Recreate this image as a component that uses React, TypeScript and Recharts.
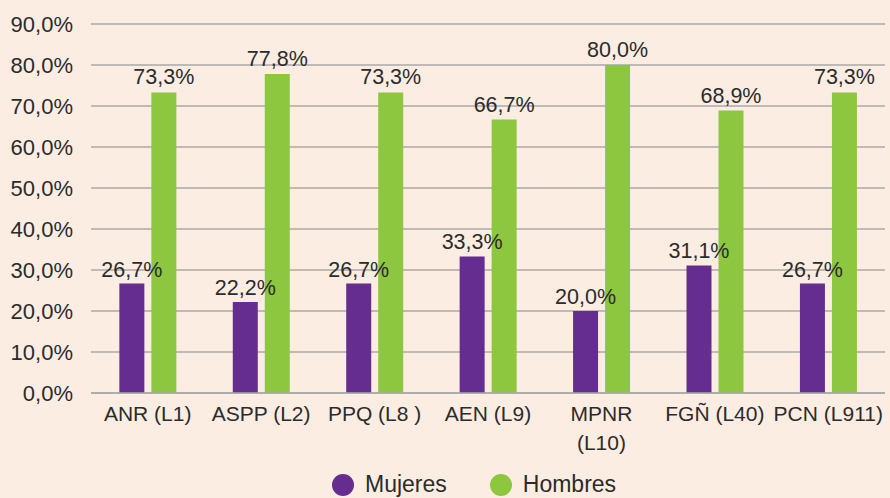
import React from 'react';
import { BarChart, Bar, XAxis, YAxis, CartesianGrid, LabelList } from 'recharts';

const categories = ['ANR (L1)', 'ASPP (L2)', 'PPQ (L8 )', 'AEN (L9)', 'MPNR\n(L10)', 'FGÑ (L40)', 'PCN (L911)'];
const mujeres = [26.7, 22.2, 26.7, 33.3, 20.0, 31.1, 26.7];
const hombres = [73.3, 77.8, 73.3, 66.7, 80.0, 68.9, 73.3];
const yTicks = [0, 10, 20, 30, 40, 50, 60, 70, 80, 90];
const seriesNames = ['Mujeres', 'Hombres'];

const PURPLE = '#652D90';
const GREEN = '#8DC63F';
const BG = '#FCEDE3';
const TEXT = '#2B2B2B';
const GRID = '#A8A8A8';
const FONT = '"Liberation Sans", Arial, Helvetica, sans-serif';

const data = categories.map((c, i) => ({ name: c, Mujeres: mujeres[i], Hombres: hombres[i] }));

const fmt = (v: number) => v.toFixed(1).replace('.', ',') + '%';

const XTick = (props: any) => {
  const { x, y, payload } = props;
  const lines = String(payload.value).split('\n');
  return (
    <text x={x} y={y + 20} textAnchor="middle" fill={TEXT} fontSize={21} fontFamily={FONT}>
      {lines.map((l, i) => (
        <tspan key={i} x={x} dy={i === 0 ? 0 : 29}>{l}</tspan>
      ))}
    </text>
  );
};

const LegendBox = () => {
  const colors = [PURPLE, GREEN];
  return (
    <div style={{ position: 'absolute', left: 332, top: 471, display: 'flex', alignItems: 'center', fontFamily: FONT, fontSize: 23, color: TEXT, lineHeight: '24px', whiteSpace: 'nowrap' }}>
      {seriesNames.map((n, i) => (
        <div key={n} style={{ display: 'flex', alignItems: 'center', marginRight: i === 0 ? 43 : 0 }}>
          <span style={{ display: 'inline-block', width: 22, height: 22, borderRadius: 11, background: colors[i], marginRight: 11, marginTop: 3 }} />
          <span>{n}</span>
        </div>
      ))}
    </div>
  );
};

export default function App() {
  return (
    <div style={{ position: 'absolute', left: 0, top: 0, width: 890, height: 498, background: BG, overflow: 'hidden' }}>
      <BarChart
        width={890}
        height={498}
        data={data}
        margin={{ top: 24, right: 5, bottom: 75, left: 0 }}
        barCategoryGap="25%"
        barGap={7}
      >
        <CartesianGrid vertical={false} stroke={GRID} strokeWidth={1.6} />
        <XAxis
          dataKey="name"
          height={30}
          tick={<XTick />}
          tickLine={false}
          axisLine={{ stroke: GRID, strokeWidth: 1.6 }}
          interval={0}
        />
        <YAxis
          domain={[0, 90]}
          ticks={yTicks}
          tickFormatter={fmt}
          width={91}
          tickLine={false}
          axisLine={false}
          tickMargin={12}
          tick={{ fill: TEXT, fontSize: 22, fontFamily: FONT }}
          interval={0}
        />
        <Bar dataKey="Mujeres" fill={PURPLE} isAnimationActive={false}>
          <LabelList dataKey="Mujeres" position="top" offset={7} formatter={(v: any) => fmt(Number(v))} fill={TEXT} fontSize={21.5} fontFamily={FONT} />
        </Bar>
        <Bar dataKey="Hombres" fill={GREEN} isAnimationActive={false}>
          <LabelList dataKey="Hombres" position="top" offset={8} formatter={(v: any) => fmt(Number(v))} fill={TEXT} fontSize={21.5} fontFamily={FONT} />
        </Bar>
      </BarChart>
      <LegendBox />
    </div>
  );
}
